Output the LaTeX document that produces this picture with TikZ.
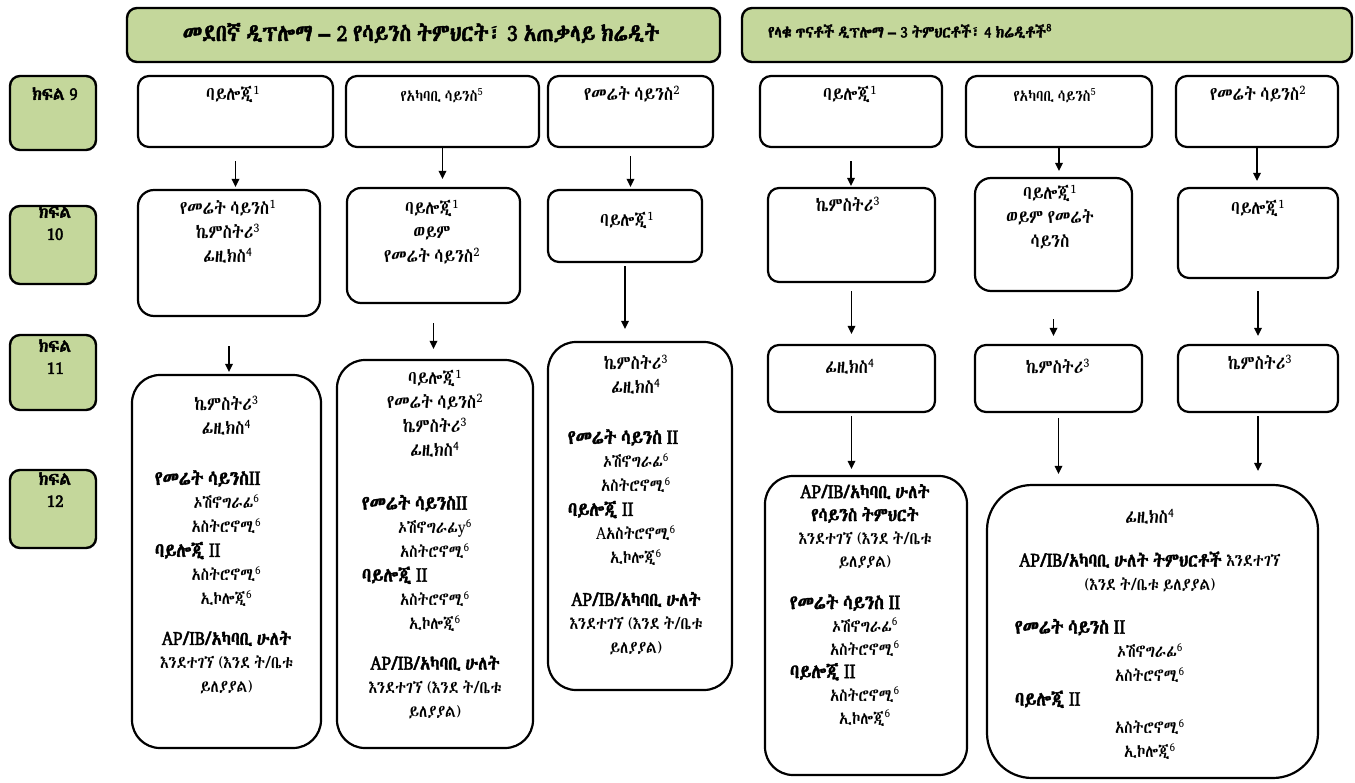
\documentclass[tikz,border=0pt]{standalone}
\usepackage{fontspec}
\usetikzlibrary{arrows.meta}
\IfFontExistsTF{Abyssinica SIL}{\setmainfont[AutoFakeBold=2,WordSpace=0.6,FakeStretch=0.87]{Abyssinica SIL}}{%
 \IfFontExistsTF{FreeSerif}{\setmainfont[WordSpace=0.6,FakeStretch=0.87]{FreeSerif}}{%
  \IfFontExistsTF{Noto Sans Ethiopic}{\setmainfont[AutoFakeBold=2,WordSpace=0.6,FakeStretch=0.87]{Noto Sans Ethiopic}}{\setmainfont{Liberation Serif}}}}
\definecolor{hdgreen}{RGB}{196,215,155}
\newcommand\sps[1]{\textsuperscript{#1}}
\newcommand\subi[1]{{\fontsize{17.3}{24}\selectfont #1}}
\newcommand\hd[2]{\makebox[#1][l]{\bfseries\fontsize{20}{24}\selectfont #2}}
\newcommand\arr[4]{\draw[arr, shorten <=#3pt, shorten >=#4pt] (#1.south) -- (#1.south |- #2.north);}
\begin{document}
\begin{tikzpicture}[x=1pt,y=-1pt,
  box/.style={draw, line width=2.2pt, rounded corners=11pt, fill=white, inner sep=0pt},
  tall/.style={box, rounded corners=28pt},
  grn/.style={draw, line width=2.4pt, rounded corners=10pt, fill=hdgreen, inner sep=0pt},
  txt/.style={inner sep=0pt, align=center, anchor=north, font=\fontsize{19}{24}\selectfont},
  labt/.style={inner sep=0pt, align=center, anchor=north, font=\bfseries\fontsize{18.4}{22}\selectfont},
  arr/.style={-{Triangle[length=8pt,width=7.5pt]}, line width=1.7pt}]
\useasboundingbox (0,0) rectangle (1355,782);
% headers
\node[grn, minimum width=593pt, minimum height=54pt] (h1) at (423.5,35) {};
\node[grn, minimum width=610pt, minimum height=54pt] (h2) at (1047,35) {};
\node[inner sep=0pt, font=\bfseries\fontsize{24}{26}\selectfont] (h1t) at (421,33) {መደበኛ ዲፕሎማ – 2 የሳይንስ ትምህርት፣ 3 አጠቃላይ ክሬዲት};
\node[inner sep=0pt, anchor=west, font=\bfseries\fontsize{16.5}{18}\selectfont] (h2t) at (768,31) {የላቁ ጥናቶች ዲፕሎማ – 3 ትምህርቶች፣ 4 ክሬዲቶች\sps{8}};
% grade labels
\node[grn, minimum width=86pt, minimum height=74pt] (l9) at (53,113) {};
\node[grn, minimum width=86pt, minimum height=78pt] (l10) at (53,245) {};
\node[grn, minimum width=86pt, minimum height=75pt] (l11) at (53,372.5) {};
\node[grn, minimum width=86pt, minimum height=78pt] (l12) at (53,509) {};
\node[labt] (l9t) at (55,87) {ክፍል 9};
\node[labt] (l10t) at (55,205) {ክፍል\\10};
\node[labt] (l11t) at (55,339) {ክፍል\\11};
\node[labt] (l12t) at (55,472) {ክፍል\\12};
% row 9
\node[box, minimum width=195pt, minimum height=71pt] (c1a) at (235.5,111.5) {};
\node[box, minimum width=193pt, minimum height=71pt] (c2a) at (442.5,111.5) {};
\node[box, minimum width=165pt, minimum height=71pt] (c3a) at (630.5,111.5) {};
\node[box, minimum width=182pt, minimum height=71pt] (c4a) at (851,111.5) {};
\node[box, minimum width=186pt, minimum height=71pt] (c5a) at (1059,111.5) {};
\node[box, minimum width=162pt, minimum height=71pt] (c6a) at (1257,111.5) {};
\node[txt] (c1at) at (233,86) {ባይሎጂ\sps{1}};
\node[txt, font=\fontsize{16}{20}\selectfont] (c2at) at (442,88) {የአካባቢ ሳይንስ\sps{5}};
\node[txt] (c3at) at (632,86) {የመሬት ሳይንስ\sps{2}};
\node[txt] (c4at) at (850,86) {ባይሎጂ\sps{1}};
\node[txt, font=\fontsize{16}{20}\selectfont] (c5at) at (1055,88) {የአካባቢ ሳይንስ\sps{5}};
\node[txt] (c6at) at (1258,86) {የመሬት ሳይንስ\sps{2}};
% row 10
\node[box, rounded corners=16pt, minimum width=182pt, minimum height=126pt] (c1b) at (229,253) {};
\node[box, rounded corners=14pt, minimum width=173pt, minimum height=115pt] (c2b) at (433.5,245.5) {};
\node[box, minimum width=154pt, minimum height=72pt] (c3b) at (625,226) {};
\node[box, minimum width=167pt, minimum height=94pt] (c4b) at (851.5,235) {};
\node[box, rounded corners=16pt, minimum width=157pt, minimum height=113pt] (c5b) at (1053.5,234.5) {};
\node[box, minimum width=160pt, minimum height=90pt] (c6b) at (1258,233) {};
\node[txt] (c1bt) at (228,200) {የመሬት ሳይንስ\sps{1}\\ ኬምስትሪ\sps{3}\\ ፊዚክስ\sps{4}};
\node[txt] (c2bt) at (432,200) {ባይሎጂ\sps{1}\\ ወይም\\ የመሬት ሳይንስ\sps{2}};
\node[txt] (c3bt) at (627,212) {ባይሎጂ\sps{1}};
\node[txt] (c4bt) at (848,197) {ኬምስትሪ\sps{3}};
\node[txt] (c5bt) at (1050,185) {ባይሎጂ\sps{1}\\ ወይም የመሬት\\ ሳይንስ};
\node[txt] (c6bt) at (1258,200) {ባይሎጂ\sps{1}};
% row 11
\node[box, minimum width=167pt, minimum height=67pt] (c4c) at (851.5,378.5) {};
\node[box, minimum width=167pt, minimum height=67pt] (c5c) at (1058.5,378.5) {};
\node[box, minimum width=160pt, minimum height=67pt] (c6c) at (1258,378.5) {};
\node[txt] (c4ct) at (850,359) {ፊዚክስ\sps{4}};
\node[txt] (c5ct) at (1058,359) {ኬምስትሪ\sps{3}};
\node[txt] (c6ct) at (1260,355) {ኬምስትሪ\sps{3}};
% row 12
\node[tall, minimum width=189pt, minimum height=373pt] (c1d) at (226.5,561.5) {};
\node[tall, minimum width=196pt, minimum height=388pt] (c2d) at (435,554) {};
\node[tall, minimum width=184pt, minimum height=348pt] (c3d) at (640,516) {};
\node[tall, minimum width=202pt, minimum height=299pt] (c4d) at (866,625.5) {};
\node[box, rounded corners=45pt, minimum width=331pt, minimum height=293pt] (c5d) at (1152.5,631.5) {};
\node[txt] (c1dt) at (226.5,396) {ኬምስትሪ\sps{3}\\ ፊዚክስ\sps{4}\\[26pt]
  \hd{143pt}{የመሬት ሳይንስII}\\ \subi{ኦሽኖግራፊ\sps{6}}\\ \subi{አስትሮኖሚ\sps{6}}\\
  \hd{143pt}{ባይሎጂ II}\\ \subi{አስትሮኖሚ\sps{6}}\\ \subi{ኢኮሎጂ\sps{6}}\\[16pt]
  {\bfseries AP/IB/አካባቢ ሁለት}\\ \subi{እንደተገኘ (እንደ ት/ቤቱ}\\ \subi{ይለያያል)}};
\node[txt] (c2dt) at (435,370) {ባይሎጂ\sps{1}\\ የመሬት ሳይንስ\sps{2}\\ ኬምስትሪ\sps{3}\\ ፊዚክስ\sps{4}\\[29pt]
  \hd{146pt}{የመሬት ሳይንስII}\\ \subi{ኦሽኖግራፊy\sps{6}}\\ \subi{አስትሮኖሚ\sps{6}}\\
  \hd{146pt}{ባይሎጂ II}\\ \subi{አስትሮኖሚ\sps{6}}\\ \subi{ኢኮሎጂ\sps{6}}\\[16pt]
  {\bfseries AP/IB/አካባቢ ሁለት}\\ \subi{እንደተገኘ (እንደ ት/ቤቱ}\\ \subi{ይለያያል)}};
\node[txt] (c3dt) at (636,355) {ኬምስትሪ\sps{3}\\ ፊዚክስ\sps{4}\\[26pt]
  \hd{136pt}{የመሬት ሳይንስ II}\\ \subi{ኦሽኖግራፊ\sps{6}}\\ \subi{አስትሮኖሚ\sps{6}}\\
  \hd{136pt}{ባይሎጂ II}\\ \subi{Aአስትሮኖሚ\sps{6}}\\ \subi{ኢኮሎጂ\sps{6}}\\[18pt]
  {\bfseries AP/IB/አካባቢ ሁለት}\\ \subi{እንደተገኘ (እንደ ት/ቤቱ}\\ \subi{ይለያያል)}};
\node[txt, font=\fontsize{19}{23}\selectfont] (c4dt) at (865,484) {{\bfseries AP/IB/አካባቢ ሁለት}\\ {\bfseries የሳይንስ ትምህርት}\\
  \subi{እንደተገኘ (እንደ ት/ቤቱ}\\ \subi{ይለያያል)}\\[19pt]
  \hd{150pt}{የመሬት ሳይንስ II}\\ \subi{ኦሽኖግራፊ\sps{6}}\\ \subi{አስትሮኖሚ\sps{6}}\\
  \hd{150pt}{ባይሎጂ II}\\ \subi{አስትሮኖሚ\sps{6}}\\ \subi{ኢኮሎጂ\sps{6}}};
\node[txt] (c5dt) at (1150,509) {ፊዚክስ\sps{4}\\[19pt]
  {\bfseries AP/IB/አካባቢ ሁለት ትምህርቶች} \subi{እንደተገኘ}\\ \subi{(እንደ ት/ቤቱ ይለያያል)}\\[19pt]
  \hd{270pt}{የመሬት ሳይንስ II}\\ \subi{ኦሽኖግራፊ\sps{6}}\\ \subi{አስትሮኖሚ\sps{6}}\\
  \hd{270pt}{ባይሎጂ II}\\[4pt] \subi{አስትሮኖሚ\sps{6}}\\ \subi{ኢኮሎጂ\sps{6}}};
% arrows
\arr{c1a}{c1b}{13}{2}
\arr{c1b}{c1d}{29}{2}
\arr{c2a}{c2b}{0}{8}
\arr{c2b}{c2d}{19}{10}
\arr{c3a}{c3b}{8}{2}
\arr{c3b}{c3d}{3}{12}
\arr{c4a}{c4b}{13}{1}
\arr{c4b}{c4c}{8}{10}
\arr{c4c}{c4d}{3}{6}
\arr{c5a}{c5b}{0}{6}
\arr{c5b}{c5c}{27}{8}
\arr{c5c}{c5d}{5}{10}
\arr{c6a}{c6b}{0}{6}
\arr{c6b}{c6c}{12}{8}
\arr{c6c}{c5d}{3}{13}
\end{tikzpicture}
\end{document}
